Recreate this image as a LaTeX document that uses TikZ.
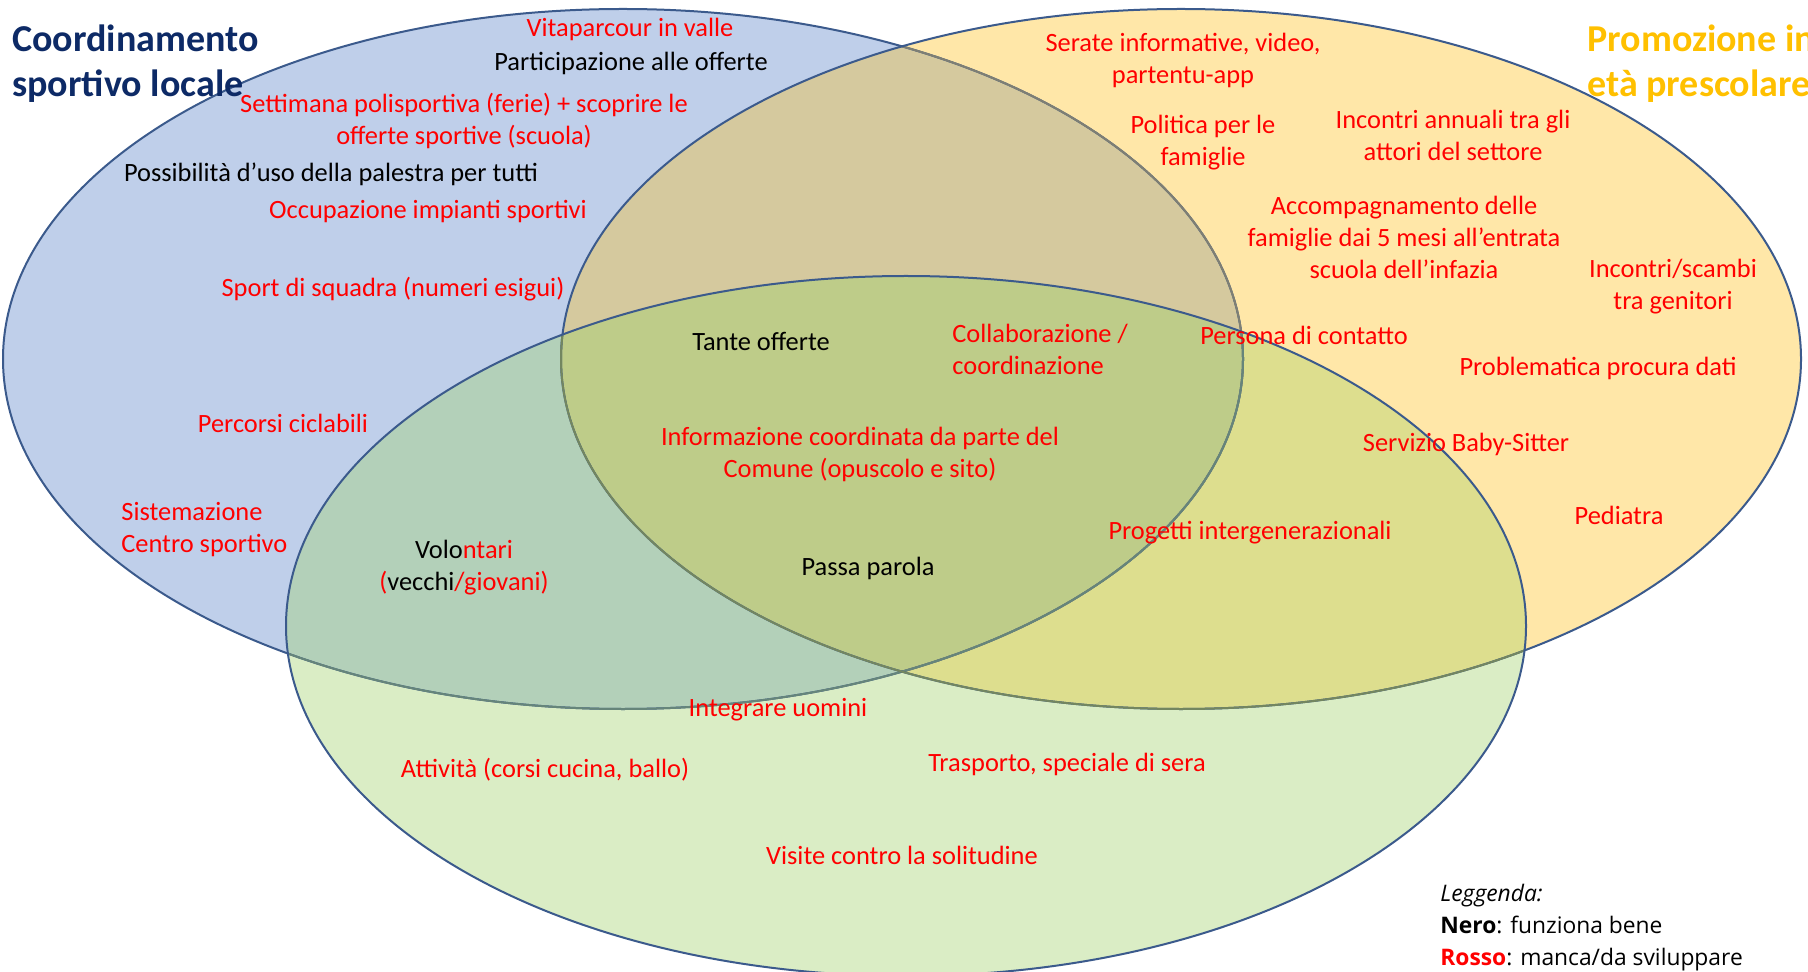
\documentclass[tikz,border=0pt]{standalone}
\usepackage{fontspec}
\setmainfont{Carlito}
\newfontfamily\legfont{Open Sans}
\usepackage{xcolor}
\definecolor{blueC}{HTML}{BFCFEA}
\definecolor{yellowC}{HTML}{FFE7A8}
\definecolor{tanC}{HTML}{D5C99E}
\definecolor{greenC}{HTML}{DAEDC5}
\definecolor{bgC}{HTML}{B3D0B9}
\definecolor{ygC}{HTML}{DDDE8E}
\definecolor{centerC}{HTML}{BECC89}
\definecolor{olC}{HTML}{3B5A8C}
\definecolor{olBY}{HTML}{7F7F73}
\definecolor{olBG}{HTML}{66857A}
\definecolor{olYG}{HTML}{738660}
\definecolor{navyT}{HTML}{0D2A66}
\definecolor{goldT}{HTML}{FFC000}
\definecolor{redT}{HTML}{FF0000}
\tikzset{
  txt/.style={font=\fontsize{13.2}{16}\selectfont, align=center, inner sep=0pt, yshift=-1.2pt},
  rtxt/.style={txt, text=redT},
  ktxt/.style={txt, text=black},
  ttl/.style={font=\fontsize{19}{22.5}\selectfont\bfseries, align=left, inner sep=0pt, anchor=west},
  ol/.style={line width=1pt},
}
\begin{document}
\begin{tikzpicture}[x=0.5pt,y=-0.5pt]
\useasboundingbox (0,0) rectangle (1808,972);
\clip (0,0) rectangle (1808,972);
% fills
\fill[blueC] (623,359) ellipse [x radius=620,y radius=350];
\fill[yellowC] (1181,359) ellipse [x radius=620,y radius=350];
\begin{scope}
  \clip (623,359) ellipse [x radius=620,y radius=350];
  \fill[tanC] (1181,359) ellipse [x radius=620,y radius=350];
\end{scope}
\fill[greenC] (906,626) ellipse [x radius=620,y radius=350];
\begin{scope}
  \clip (906,626) ellipse [x radius=620,y radius=350];
  \fill[bgC] (623,359) ellipse [x radius=620,y radius=350];
  \fill[ygC] (1181,359) ellipse [x radius=620,y radius=350];
  \clip (623,359) ellipse [x radius=620,y radius=350];
  \fill[centerC] (1181,359) ellipse [x radius=620,y radius=350];
\end{scope}
% outlines
\draw[ol, olC] (623,359) ellipse [x radius=620,y radius=350];
\begin{scope}
  \clip (1181,359) ellipse [x radius=620,y radius=350];
  \draw[ol, olBY] (623,359) ellipse [x radius=620,y radius=350];
\end{scope}
\begin{scope}
  \clip (906,626) ellipse [x radius=620,y radius=350];
  \draw[ol, olBG] (623,359) ellipse [x radius=620,y radius=350];
\end{scope}
\draw[ol, olC] (1181,359) ellipse [x radius=620,y radius=350];
\begin{scope}
  \clip (906,626) ellipse [x radius=620,y radius=350];
  \draw[ol, olYG] (1181,359) ellipse [x radius=620,y radius=350];
\end{scope}
\draw[ol, olC] (906,626) ellipse [x radius=620,y radius=350];

% titles
\node[ttl, text=navyT] (t1) at (12,64) {Coordinamento\\sportivo locale};
\node[ttl, text=goldT] (t2) at (1587,64) {Promozione in\\età prescolare};

% blue region
\node[rtxt] (a1) at (630,27) {Vitaparcour in valle};
\node[ktxt] (a2) at (631,61) {Participazione alle offerte};
\node[rtxt] (a3) at (464,119) {Settimana polisportiva (ferie) + scoprire le\\offerte sportive (scuola)};
\node[ktxt] (a4) at (331,172) {Possibilità d’uso della palestra per tutti};
\node[rtxt] (a5) at (428,209) {Occupazione impianti sportivi};
\node[rtxt] (a6) at (393,287) {Sport di squadra (numeri esigui)};
\node[rtxt] (a7) at (283,421) {Percorsi ciclabili};
\node[rtxt, align=left, anchor=west] (a8) at (121,527) {Sistemazione\\Centro sportivo};

% blue-green
\node[ktxt] (bg1) at (464,565) {Volo\textcolor{redT}{ntari}\\\textcolor{redT}{(}vecchi\textcolor{redT}{/giovani)}};

% center
\node[ktxt] (c1) at (761,339) {Tante offerte};
\node[rtxt, align=left, anchor=west] (c2) at (952,347) {Collaborazione /\\coordinazione};
\node[rtxt] (c3) at (860,452) {Informazione coordinata da parte del\\Comune (opuscolo e sito)};
\node[ktxt] (c4) at (868,566) {Passa parola};

% yellow
\node[rtxt] (y1) at (1183,58) {Serate informative, video,\\partentu-app};
\node[rtxt] (y2) at (1203,140) {Politica per le\\famiglie};
\node[rtxt] (y3) at (1453,133) {Incontri annuali tra gli\\attori del settore};
\node[rtxt] (y4) at (1404,235) {Accompagnamento delle\\famiglie dai 5 mesi all’entrata\\scuola dell’infazia};
\node[rtxt] (y5) at (1673,284) {Incontri/scambi\\tra genitori};
\node[rtxt] (y6) at (1304,333) {Persona di contatto};
\node[rtxt] (y7) at (1598,366) {Problematica procura dati};
\node[rtxt] (y8) at (1466,442) {Servizio Baby-Sitter};
\node[rtxt] (y9) at (1619,513) {Pediatra};

% yellow-green
\node[rtxt] (yg1) at (1250,530) {Progetti intergenerazionali};

% green
\node[rtxt] (g1) at (778,707) {Integrare uomini};
\node[rtxt] (g2) at (545,767) {Attività (corsi cucina, ballo)};
\node[rtxt] (g3) at (1067,762) {Trasporto, speciale di sera};
\node[rtxt] (g4) at (902,853) {Visite contro la solitudine};

% legend
\node[align=left, anchor=west, inner sep=0pt, font=\legfont\fontsize{11.4}{16}\selectfont] (leg) at (1440,928)
  {\textit{Leggenda:}\\\textbf{Nero}: funziona bene\\\textbf{\textcolor{redT}{Rosso}}: manca/da sviluppare};
\end{tikzpicture}
\end{document}
